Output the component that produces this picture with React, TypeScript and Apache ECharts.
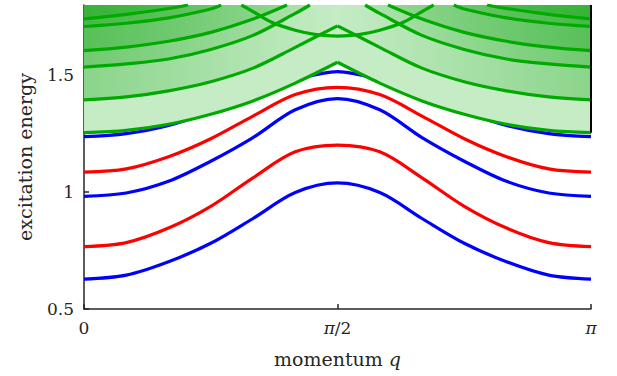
import React, { useEffect, useRef } from "react";
import * as echarts from "echarts";

const PI = Math.PI;

// momentum grid (0 .. pi in steps of pi/12)
const qGrid = [0, 0.2618, 0.5236, 0.7854, 1.0472, 1.309, 1.5708, 1.8326, 2.0944, 2.3562, 2.618, 2.8798, 3.14159];

// single-particle branches
const blue1 = [0.628, 0.645, 0.702, 0.781, 0.887, 0.998, 1.039, 0.998, 0.887, 0.781, 0.702, 0.645, 0.628];
const red1 = [0.767, 0.784, 0.846, 0.939, 1.061, 1.172, 1.201, 1.172, 1.061, 0.939, 0.846, 0.784, 0.767];
const blue2 = [0.982, 0.996, 1.046, 1.132, 1.233, 1.352, 1.4, 1.352, 1.233, 1.132, 1.046, 0.996, 0.982];
const red2 = [1.085, 1.099, 1.151, 1.228, 1.325, 1.417, 1.448, 1.417, 1.325, 1.228, 1.151, 1.099, 1.085];
const blue3 = [1.237, 1.25, 1.285, 1.345, 1.42, 1.48, 1.515, 1.48, 1.42, 1.345, 1.285, 1.25, 1.237];

// continuum edges with cusp at pi/2
const edge1 = [1.254, 1.264, 1.29, 1.333, 1.39, 1.466, 1.555, 1.466, 1.39, 1.333, 1.29, 1.264, 1.254];
const edge2 = [1.394, 1.407, 1.433, 1.472, 1.53, 1.619, 1.711, 1.619, 1.53, 1.472, 1.433, 1.407, 1.394];

// continuum branches rising from q = 0 (left) and their partners falling to q = pi (right)
const band3Left = [[0, 1.534], [0.2618, 1.548], [0.5236, 1.569], [0.7854, 1.61], [1.0472, 1.67], [1.309, 1.764], [1.4, 1.8]];
const band4Left = [[0, 1.605], [0.2618, 1.62], [0.5236, 1.645], [0.7854, 1.683], [1.0472, 1.74], [1.258, 1.8]];
const band5Left = [[0, 1.708], [0.2618, 1.722], [0.5236, 1.745], [0.7854, 1.783], [0.85, 1.8]];
const band6Left = [[0, 1.741], [0.2618, 1.76], [0.5236, 1.785], [0.644, 1.8]];
const band3Right = [[1.7416, 1.8], [1.8326, 1.764], [2.0944, 1.67], [2.3562, 1.61], [2.618, 1.569], [2.8798, 1.548], [3.14159, 1.534]];
const band4Right = [[1.8836, 1.8], [2.0944, 1.74], [2.3562, 1.683], [2.618, 1.645], [2.8798, 1.62], [3.14159, 1.605]];
const band5Right = [[2.2916, 1.8], [2.3562, 1.783], [2.618, 1.745], [2.8798, 1.722], [3.14159, 1.708]];
const band6Right = [[2.4976, 1.8], [2.618, 1.785], [2.8798, 1.76], [3.14159, 1.741]];
// arc dipping to a minimum at pi/2
const arcMid = [[0.975, 1.8], [1.0472, 1.772], [1.163, 1.726], [1.309, 1.692], [1.44, 1.673], [1.5708, 1.667],
  [1.7016, 1.673], [1.8326, 1.692], [1.9786, 1.726], [2.0944, 1.772], [2.1666, 1.8]];

const xTickValues = [0, PI / 2, PI];
const xTickLabels = ["0", "{i|π}/2", "{i|π}"];
const yTickValues = [0.5, 1, 1.5];

const GREEN_LINE = "rgb(0,170,0)";
const G = "20,165,20";
const FONT = "DejaVu Serif";
const TEXT = "#262626";
const SMOOTH = 0.33;

function pairs(ys: number[]) {
  return qGrid.map((q, i) => [q, ys[i]]);
}
function left(arr: number[]) {
  return pairs(arr).slice(0, 7);
}
function right(arr: number[]) {
  return pairs(arr).slice(6);
}
function grad(stops: [number, number][]) {
  return {
    type: "linear",
    x: 0, y: 0, x2: 1, y2: 0,
    colorStops: stops.map(([o, a]) => ({ offset: o, color: `rgba(${G},${a})` })),
  };
}
function fill(data: any, color: any, smooth: any) {
  return {
    type: "line", data, smooth, symbol: "none", silent: true, z: 2,
    lineStyle: { width: 0, opacity: 0 },
    areaStyle: { origin: "end", color, opacity: 1 },
  };
}
function curve(data: any, color: string, z = 3) {
  return {
    type: "line", data, smooth: SMOOTH, symbol: "none", silent: true, z,
    lineStyle: { width: 3.2, color },
  };
}

export default function App() {
  const ref = useRef<HTMLDivElement>(null);
  useEffect(() => {
    const chart = echarts.init(ref.current!, null, { renderer: "svg" });
    const labelStyle = { color: TEXT, fontFamily: FONT, fontSize: 17 };
    const rich = { i: { fontStyle: "italic", fontFamily: FONT, fontSize: 17, color: TEXT } };
    chart.setOption({
      animation: false,
      backgroundColor: "#ffffff",
      grid: { left: 84, right: 26, top: 5, bottom: 67 },
      xAxis: {
        type: "value", min: 0, max: PI,
        axisLine: { show: true, lineStyle: { color: TEXT, width: 1.5 } },
        axisTick: { show: true, inside: true, length: 5, customValues: xTickValues, lineStyle: { color: TEXT, width: 1.5 } },
        axisLabel: {
          ...labelStyle, margin: 10, customValues: xTickValues, rich,
          formatter: (v: number) => {
            let k = 0;
            xTickValues.forEach((t, i) => { if (Math.abs(t - v) < 1e-3) k = i; });
            return xTickLabels[k];
          },
        },
        splitLine: { show: false },
        name: "momentum {i|q}", nameLocation: "middle", nameGap: 40,
        nameTextStyle: { color: TEXT, fontFamily: FONT, fontSize: 19, rich: { i: { fontStyle: "italic", fontFamily: FONT, fontSize: 19, color: TEXT } } },
      },
      yAxis: {
        type: "value", min: 0.5, max: 1.8,
        axisLine: { show: true, lineStyle: { color: TEXT, width: 1.5 } },
        axisTick: { show: true, inside: true, length: 5, customValues: yTickValues, lineStyle: { color: TEXT, width: 1.5 } },
        axisLabel: { ...labelStyle, margin: 10, customValues: yTickValues, formatter: (v: number) => String(v) },
        splitLine: { show: false },
        name: "excitation energy", nameLocation: "middle", nameGap: 50,
        nameTextStyle: { color: TEXT, fontFamily: FONT, fontSize: 19 },
      },
      series: [
        curve(pairs(blue3), "#0000ff", 1),
        fill(pairs(edge1), "rgb(197,236,197)", false),
        fill(pairs(edge2), grad([[0, 0.33], [0.5, 0], [1, 0.33]]), false),
        fill(band3Left, grad([[0, 0.22], [1, 0.1]]), SMOOTH),
        fill(band4Left, grad([[0, 0.26], [1, 0.14]]), SMOOTH),
        fill(band5Left, grad([[0, 0.26], [1, 0.18]]), SMOOTH),
        fill(band6Left, grad([[0, 0.3], [1, 0.24]]), SMOOTH),
        fill(band3Right, grad([[0, 0.1], [1, 0.22]]), SMOOTH),
        fill(band4Right, grad([[0, 0.14], [1, 0.26]]), SMOOTH),
        fill(band5Right, grad([[0, 0.18], [1, 0.26]]), SMOOTH),
        fill(band6Right, grad([[0, 0.24], [1, 0.3]]), SMOOTH),
        curve(pairs(blue1), "#0000ff"),
        curve(pairs(red1), "#ff0000"),
        curve(pairs(blue2), "#0000ff"),
        curve(pairs(red2), "#ff0000"),
        curve(left(edge1), GREEN_LINE),
        curve(right(edge1), GREEN_LINE),
        curve(left(edge2), GREEN_LINE),
        curve(right(edge2), GREEN_LINE),
        curve(band3Left, GREEN_LINE),
        curve(band4Left, GREEN_LINE),
        curve(band5Left, GREEN_LINE),
        curve(band6Left, GREEN_LINE),
        curve(band3Right, GREEN_LINE),
        curve(band4Right, GREEN_LINE),
        curve(band5Right, GREEN_LINE),
        curve(band6Right, GREEN_LINE),
        curve(arcMid, GREEN_LINE),
        {
          type: "line", data: [[PI, edge1[12]], [PI, 1.8]], symbol: "none", silent: true, clip: false, z: 4,
          lineStyle: { width: 2, color: "#000000" },
        },
      ],
    });
    return () => chart.dispose();
  }, []);
  return <div ref={ref} style={{ position: "fixed", left: 0, top: 0, width: 617, height: 376 }} />;
}
